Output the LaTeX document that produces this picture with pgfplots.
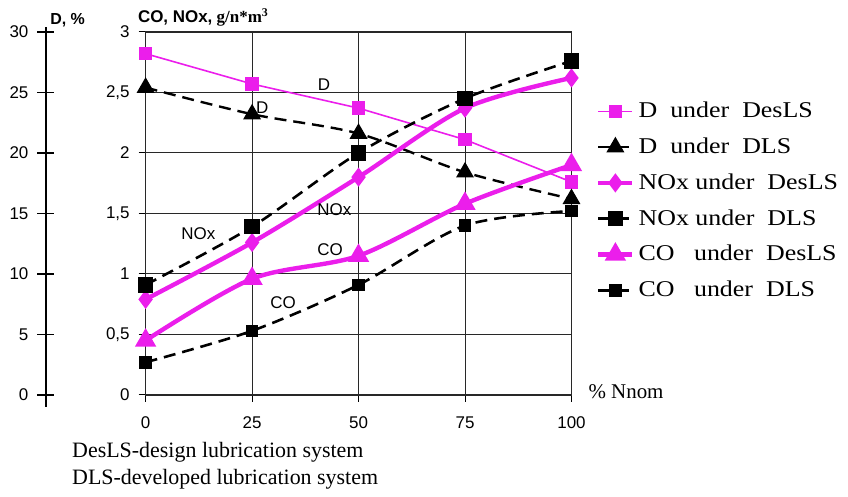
\documentclass[border=0pt]{standalone}
\usepackage{fontspec}
\setmainfont{Liberation Serif}
\newfontfamily\arial{Liberation Sans}
\newfontfamily\legfont[FakeStretch=1.15]{Liberation Serif}
\usepackage{pgfplots}
\pgfplotsset{compat=1.18}
\definecolor{mag}{RGB}{235,30,235}
\definecolor{gridc}{RGB}{40,40,40}
\begin{document}
\begin{tikzpicture}
% main axis
\begin{axis}[at={(0pt,0pt)}, anchor=south west, scale only axis,
  width=213.5pt, height=182pt,
  xmin=0, xmax=100, ymin=0, ymax=3,
  xtick={0,25,50,75,100}, ytick={0,0.5,...,3},
  axis line style={draw=gridc, line width=0.7pt},
  grid=major,
  major grid style={draw=gridc, line width=0.5pt},
  tick align=outside, major tick length=3.5pt,
  xtick pos=bottom, ytick pos=left,
  tick style={draw=black, line width=0.5pt},
  ticklabel style={font=\arial\fontsize{8.5}{10}\selectfont},
  /pgf/number format/use comma,
  /pgf/number format/assume math mode=true,
  yticklabel style={xshift=-1pt}, xticklabel style={yshift=-4pt},
  xlabel={\% Nnom},
  x label style={at={(rel axis cs:1,0)}, anchor=west, xshift=5pt, yshift=1.5pt, font=\fontsize{10.5}{12}\selectfont},
  legend style={at={(1.043,0.830)}, anchor=north west, draw=none, fill=none,
    font=\legfont\fontsize{11.3}{13}\selectfont, row sep=4.6pt, cells={anchor=west}},
  ]
\addplot[mag, line width=0.8pt, mark=square*, mark size=3pt, y filter/.expression={y/10}]
  coordinates {(0,28.2)(25,25.7)(50,23.7)(75,21.1)(100,17.6)};
\addlegendentry{D~~under~~DesLS}
\addplot[black, line width=1.2pt, dash pattern=on 6pt off 3.5pt, smooth, mark=triangle*, mark size=4pt, mark options={solid}, y filter/.expression={y/10}]
  coordinates {(0,25.4)(25,23.2)(50,21.6)(75,18.4)(100,16.2)};
\addlegendentry{D~~under~~DLS}
\addplot[mag, line width=2.2pt, smooth, mark=diamond*, mark size=3pt]
  coordinates {(0,0.79)(25,1.26)(50,1.80)(75,2.37)(100,2.62)};
\addlegendentry{NOx under~~DesLS}
\addplot[black, line width=1.3pt, dash pattern=on 6pt off 3.5pt, smooth, mark=square*, mark size=3.2pt, mark options={solid}]
  coordinates {(0,0.91)(25,1.39)(50,2.0)(75,2.45)(100,2.76)};
\addlegendentry{NOx under~~DLS}
\addplot[mag, line width=2.2pt, smooth, mark=triangle*, mark size=4pt]
  coordinates {(0,0.45)(25,0.96)(50,1.15)(75,1.58)(100,1.90)};
\addlegendentry{CO~~~under~~DesLS}
\addplot[black, line width=1.3pt, dash pattern=on 6pt off 3.5pt, smooth, mark=square*, mark size=2.5pt, mark options={solid}]
  coordinates {(0,0.27)(25,0.53)(50,0.91)(75,1.40)(100,1.52)};
\addlegendentry{CO~~~under~~DLS}
\begin{scope}[font=\arial\fontsize{8.5}{10}\selectfont]
\node at (axis cs:41.9,2.56) {D};
\node at (axis cs:27.4,2.37) {D};
\node at (axis cs:44.3,1.53) {NOx};
\node at (axis cs:12.4,1.33) {NOx};
\node at (axis cs:43.3,1.20) {CO};
\node at (axis cs:32.3,0.76) {CO};
\end{scope}
\end{axis}
% D axis (left)
\begin{axis}[at={(-50pt,0pt)}, anchor=south west, scale only axis,
  width=1pt, height=182pt, xmin=0, xmax=1, ymin=0, ymax=30,
  ytick={0,5,...,30}, hide x axis, axis y line=left,
  y axis line style={-, line width=0.75pt, shorten >=-2.5pt, shorten <=-6pt},
  tick align=center, major tick length=8.5pt,
  ytick style={line width=0.6pt, black},
  yticklabel style={font=\arial\fontsize{8.5}{10}\selectfont, xshift=-1pt},
  /pgf/number format/assume math mode=true]
\addplot[draw=none] coordinates {(0,0)(1,30)};
\end{axis}
\node[anchor=west, font=\arial\bfseries\fontsize{8}{9}\selectfont, inner sep=0pt] at (-48pt,188pt) {D, \%};
\node[anchor=west, font=\bfseries\fontsize{8.5}{10}\selectfont, inner sep=0pt] at (-4pt,189.3pt) {{\arial CO, NOx,} g/n*m$^{\mathbf{3}}$};
\node[anchor=west, font=\fontsize{11}{13}\selectfont, inner sep=0pt] at (-37pt,-28.5pt) {DesLS-design lubrication system};
\node[anchor=west, font=\fontsize{11}{13}\selectfont, inner sep=0pt] at (-37pt,-42.5pt) {DLS-developed lubrication system};
\path (-73pt,-51pt) rectangle (351pt,198pt);
\end{tikzpicture}
\end{document}
